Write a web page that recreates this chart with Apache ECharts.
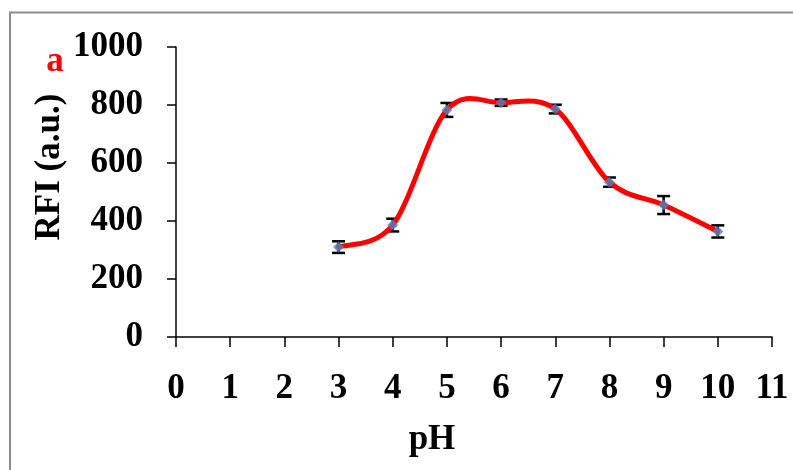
<!DOCTYPE html>
<html>
<head>
<meta charset="utf-8">
<script src="https://cdn.jsdelivr.net/npm/echarts@6/dist/echarts.min.js"></script>
<style>
html,body{margin:0;padding:0;background:#fff;}
#chart{width:793px;height:470px;}
</style>
</head>
<body>
<div id="chart"></div>
<script>
// pH values and measured relative fluorescence intensity
var phValues = [3, 4, 5, 6, 7, 8, 9, 10];
var rfiValues = [310, 386, 783, 808, 786, 534, 455, 364];
var rfiErrors = [20, 22, 24, 11, 15, 16, 31, 21];
var xTicks = [0, 1, 2, 3, 4, 5, 6, 7, 8, 9, 10, 11];
var yTicks = [0, 200, 400, 600, 800, 1000];

var FONT = '"Liberation Serif", "Times New Roman", serif';

var pointData = phValues.map(function (p, i) { return [p, rfiValues[i]]; });
var errData = phValues.map(function (p, i) {
  return [p, rfiValues[i] - rfiErrors[i], rfiValues[i] + rfiErrors[i]];
});

var chart = echarts.init(document.getElementById('chart'));

var axisLabelStyle = {
  fontFamily: FONT, fontWeight: 'bold', fontSize: 35, color: '#000'
};

// Smoothed connector: one cubic Bezier per segment (Catmull-Rom style
// tangents), anchored on the pixel positions of neighbouring points.
function renderCurveSegment(params, api) {
  var i = params.dataIndexInside;
  var n = pointData.length;
  if (i >= n - 1) return null;
  var P = function (k) {
    k = Math.max(0, Math.min(n - 1, k));
    return api.coord(pointData[k]);
  };
  var p0 = P(i - 1), p1 = P(i), p2 = P(i + 1), p3 = P(i + 2);
  var c1 = [p1[0] + (p2[0] - p0[0]) / 6, p1[1] + (p2[1] - p0[1]) / 6];
  var c2 = [p2[0] - (p3[0] - p1[0]) / 6, p2[1] - (p3[1] - p1[1]) / 6];
  return {
    type: 'bezierCurve',
    shape: { x1: p1[0], y1: p1[1], x2: p2[0], y2: p2[1],
             cpx1: c1[0], cpy1: c1[1], cpx2: c2[0], cpy2: c2[1] },
    style: { stroke: '#ff0000', lineWidth: 5, fill: 'none', lineCap: 'round' }
  };
}

chart.setOption({
  animation: false,
  backgroundColor: '#fff',
  grid: { left: 176, right: 21, top: 47, bottom: 133 },
  xAxis: {
    type: 'value',
    min: xTicks[0], max: xTicks[xTicks.length - 1], interval: 1,
    axisLine: { onZero: false, lineStyle: { color: '#000', width: 1.5 } },
    axisTick: { show: true, length: 10, lineStyle: { color: '#000', width: 1.5 } },
    axisLabel: Object.assign({ margin: 34 }, axisLabelStyle),
    splitLine: { show: false }
  },
  yAxis: {
    type: 'value',
    min: yTicks[0], max: yTicks[yTicks.length - 1], interval: 200,
    axisLine: { show: true, lineStyle: { color: '#000', width: 1.5 } },
    axisTick: { show: true, length: 9, lineStyle: { color: '#000', width: 1.5 } },
    axisLabel: Object.assign({ margin: 33, formatter: function (v) { return String(v); } }, axisLabelStyle),
    splitLine: { show: false }
  },
  graphic: [
    {
      type: 'rect', silent: true, z: -1,
      shape: { x: 10, y: 12.5, width: 800, height: 480 },
      style: { fill: 'none', stroke: '#8c8c8c', lineWidth: 2 }
    },
    {
      type: 'text', x: 55, y: 62,
      style: { text: 'a', fill: '#ff0000', font: 'bold 35px ' + FONT,
               textAlign: 'center', textVerticalAlign: 'middle' }
    },
    {
      type: 'text', x: 432, y: 440,
      style: { text: 'pH', fill: '#000', font: 'bold 35px ' + FONT,
               textAlign: 'center', textVerticalAlign: 'middle' }
    },
    {
      type: 'text', x: 50, y: 167, rotation: Math.PI / 2,
      style: { text: 'RFI (a.u.)', fill: '#000', font: 'bold 35px ' + FONT,
               textAlign: 'center', textVerticalAlign: 'middle' }
    }
  ],
  series: [
    {
      type: 'custom',
      z: 1,
      data: errData,
      renderItem: function (params, api) {
        var x = api.value(0);
        var lo = api.coord([x, api.value(1)]);
        var hi = api.coord([x, api.value(2)]);
        var half = 6.5;
        var st = { stroke: '#000', lineWidth: 2.5 };
        return {
          type: 'group',
          children: [
            { type: 'line', shape: { x1: lo[0], y1: lo[1], x2: hi[0], y2: hi[1] }, style: st },
            { type: 'line', shape: { x1: lo[0] - half, y1: lo[1], x2: lo[0] + half, y2: lo[1] }, style: st },
            { type: 'line', shape: { x1: hi[0] - half, y1: hi[1], x2: hi[0] + half, y2: hi[1] }, style: st }
          ]
        };
      }
    },
    {
      type: 'custom',
      z: 2,
      data: pointData,
      renderItem: renderCurveSegment
    },
    {
      type: 'scatter',
      z: 3,
      data: pointData,
      symbol: 'diamond',
      symbolSize: 11,
      itemStyle: { color: '#4f81bd' }
    }
  ]
});
</script>
</body>
</html>
